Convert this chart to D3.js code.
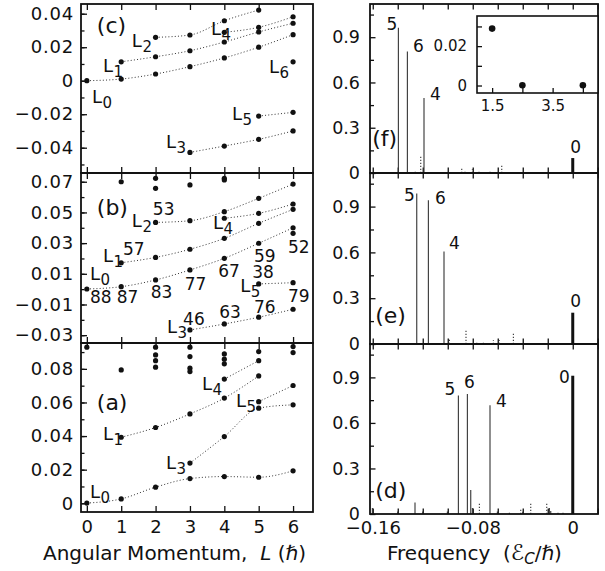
<!DOCTYPE html>
<html>
<head>
<meta charset="utf-8">
<script src="https://cdn.jsdelivr.net/npm/d3@7"></script>
<style>
body{margin:0;background:#fff;}
svg{font-family:"DejaVu Sans",sans-serif;}
</style>
</head>
<body>
<svg id="chart" width="605" height="571"></svg>
<script>
// ===== data =====
const Lvals = [0,1,2,3,4,5,6];

// panel (c) levels: [L, energy]
const cL0 = [[0,0],[1,0.0010],[2,0.0040],[3,0.0084],[4,0.0136],[5,0.0200],[6,0.0275]];
const cL1 = [[1,0.0113],[2,0.0143],[3,0.0179],[4,0.0231],[5,0.0291],[6,0.0343]];
const cL2 = [[2,0.0259],[3,0.0273],[4,0.0358],[5,0.0422]];
const cL3 = [[3,-0.0428],[4,-0.0390],[5,-0.0350],[6,-0.0300]];
const cL4 = [[4,0.0289],[5,0.0319],[6,0.0382]];
const cL5 = [[5,-0.0211],[6,-0.0189]];
const cLoose = [[6,0.0113]];

// panel (b)
const bL0 = [[0,0.0001],[1,0.0016],[2,0.0060],[3,0.0125],[4,0.0201],[5,0.0299],[6,0.0400]];
const bL1 = [[1,0.0172],[2,0.0207],[3,0.0260],[4,0.0331],[5,0.0429],[6,0.0520]];
const bL2 = [[2,0.0435],[3,0.0446],[4,0.0505],[5,0.0592],[6,0.0685]];
const bL3 = [[3,-0.0266],[4,-0.0227],[5,-0.0183],[6,-0.0131]];
const bL4 = [[4,0.0462],[5,0.0494],[6,0.0555]];
const bL5 = [[5,0.0034],[6,0.0042]];
const bLoose = [[1,0.0700],[2,0.0722],[2,0.0657],[3,0.0679],[4,0.0722],[4,0.0712],[6,0.0364]];

// panel (a)
const aL0 = [[0,0.0001],[1,0.0026],[2,0.0096],[3,0.0147],[4,0.0159],[5,0.0155],[6,0.0193]];
const aL1 = [[1,0.0393],[2,0.0451],[3,0.0532],[4,0.0626],[5,0.0758]];
const aL3 = [[3,0.0239],[4,0.0397],[5,0.0566],[6,0.0586]];
const aL4 = [[4,0.0739],[5,0.0849]];
const aL5 = [[5,0.0605],[6,0.0701]];
const aLoose = [[0,0.0929],[1,0.0794],[2,0.0929],[2,0.0883],[2,0.0849],[2,0.0810],
  [3,0.0929],[3,0.0873],[3,0.0804],[3,0.0784],[4,0.0889],[4,0.0858],[4,0.0830],
  [5,0.0903],[6,0.0933],[6,0.0897]];

// level name labels [subscript, L, E] and percentages [text, L, E]
const cNames = [['0',0.15,-0.0133],['1',0.47,0.0052],['2',1.31,0.0201],['3',2.30,-0.0402],
  ['4',3.61,0.0273],['5',4.22,-0.0235],['6',5.30,0.0046]];
const bNames = [['0',0.09,0.0060],['1',0.47,0.0177],['2',1.31,0.0405],['3',2.33,-0.0286],
  ['4',3.67,0.0392],['5',4.46,-0.0018]];
const aNames = [['0',0.09,0.0032],['1',0.47,0.0377],['3',2.30,0.0204],['4',3.35,0.0673],['5',4.34,0.0573]];
const bPercent = [['88',0.09,-0.0090],['87',0.87,-0.0090],['83',1.86,-0.0057],['77',2.85,-0.0005],
  ['67',3.82,0.0079],['59',4.86,0.0177],['52',5.85,0.0236],['57',1.05,0.0223],['53',1.92,0.0483],
  ['38',4.81,0.0073],['46',2.80,-0.0233],['63',3.85,-0.0188],['76',4.86,-0.0155],['79',5.85,-0.0084]];

const cTicks = [-0.04,-0.02,0,0.02,0.04];
const bTicks = [-0.03,-0.01,0.01,0.03,0.05,0.07];
const aTicks = [0,0.02,0.04,0.06,0.08];

// spectra: [frequency, amplitude]
const fMain = [[-0.1395,0.962],[-0.1323,0.805],[-0.1190,0.497]];
const fMainNames = ['5','6','4'];
const fZero = [[0,0.099]];
const fWeak = [[-0.1216,0.11],[-0.1260,0.01],[-0.0888,0.033],[-0.0862,0.015],[-0.0803,0.025],
  [-0.0750,0.015],[-0.0662,0.012],[-0.0568,0.05]];

const eMain = [[-0.1248,0.985],[-0.1155,0.941],[-0.1030,0.606]];
const eMainNames = ['5','6','4'];
const eZero = [[0,0.205]];
const eWeak = [[-0.0987,0.037],[-0.0854,0.087],[-0.0768,0.015],[-0.0715,0.015],[-0.0635,0.025],
  [-0.0587,0.025],[-0.0475,0.07]];

const dMain = [[-0.0915,0.781],[-0.0843,0.790],[-0.0662,0.716]];
const dMainNames = ['5','6','4'];
const dZero = [[0,0.911]];
const dSmall = [[-0.1603,0.039],[-0.1400,0.017],[-0.1262,0.075],[-0.1200,0.017],[-0.1003,0.017],
  [-0.0816,0.158],[-0.0803,0.04],[-0.0603,0.017],[-0.0400,0.015],[-0.0187,0.04],[-0.0176,0.02]];
const dWeak = [[-0.0747,0.075],[-0.0507,0.02],[-0.0416,0.04],[-0.0336,0.07],[-0.0208,0.075],
  [-0.0118,0.012],[-0.0078,0.01]];

const ampTicks = [0,0.3,0.6,0.9];
const ampMinor = [0.15,0.45,0.75,1.05];
const freqTicks = [-0.16,-0.14,-0.12,-0.10,-0.08,-0.06,-0.04,-0.02,0,0.02];
const freqLabels = [-0.16,-0.08,0];

// inset of (f): [L, value]
const insetPts = [[1.5,0.0289],[2.5,0.0001],[4.5,0.0001]];
const insetXTicks = [1.5,2.5,3.5,4.5];
const insetXLabels = [1.5,3.5];
const insetYTicks = [0,0.01,0.02,0.03];
const insetYLabels = [0,0.02];

// ===== layout =====
const svg = d3.select('#chart');
const LX = [81,313], RX = [370,598];
const rowsL = [[4,173],[173,343],[343,512]];
const rowsR = [[4,173],[173,344],[344,514]];
const INK = '#111';

const xL = d3.scaleLinear().domain([-0.17,6.58]).range(LX);
const xR = d3.scaleLinear().domain([-0.1622,0.0202]).range(RX);
const fmtE = d => d === 0 ? '0' : d3.format('.2f')(d);

function styleAxis(g, size){
  g.select('.domain').remove();
  g.selectAll('line').attr('stroke',INK).attr('stroke-width',1.3);
  g.attr('font-family',null).attr('font-size',size).selectAll('text').attr('fill',INK);
}

function frame(x0,x1,y0,y1){
  svg.append('rect').attr('x',x0).attr('y',y0).attr('width',x1-x0).attr('height',y1-y0)
    .attr('fill','none').attr('stroke',INK).attr('stroke-width',1.8);
}

function leftPanel(p){
  const [top,bot] = p.row;
  const y = d3.scaleLinear().domain(p.domain).range([bot,top]);
  const minor = d3.range(Math.ceil(p.domain[0]*100), Math.floor(p.domain[1]*100)+1).map(k=>k/100);
  svg.append('g').attr('transform',`translate(${LX[0]},0)`)
    .call(d3.axisLeft(y).tickValues(minor).tickSize(-3.5).tickFormat(''))
    .call(g=>styleAxis(g,18));
  svg.append('g').attr('transform',`translate(${LX[0]},0)`)
    .call(d3.axisLeft(y).tickValues(p.ticks).tickSize(-6).tickPadding(7).tickFormat(fmtE))
    .call(g=>styleAxis(g,18)).selectAll('text').attr('letter-spacing',0.8);
  svg.append('g').attr('transform',`translate(0,${top})`)
    .call(d3.axisTop(xL).tickValues(Lvals).tickSize(-6).tickFormat(''))
    .call(g=>styleAxis(g,18));
  svg.append('g').attr('transform',`translate(0,${bot})`)
    .call(d3.axisBottom(xL).tickValues(Lvals).tickSize(-6).tickPadding(8)
      .tickFormat(p.bottom ? d3.format('d') : ''))
    .call(g=>styleAxis(g,18));
  frame(LX[0],LX[1],top,bot);

  const line = d3.line().curve(d3.curveMonotoneX).x(d=>xL(d[0])).y(d=>y(d[1]));
  const g = svg.append('g');
  g.selectAll('path').data(p.series).join('path')
    .attr('d',line).attr('fill','none').attr('stroke','#333')
    .attr('stroke-width',1).attr('stroke-dasharray','1 2.2');
  g.selectAll('circle').data(p.series.flat().concat(p.loose)).join('circle')
    .attr('cx',d=>xL(d[0])).attr('cy',d=>y(d[1])).attr('r',2.6).attr('fill',INK);

  const names = svg.append('g').selectAll('text').data(p.names).join('text')
    .attr('x',d=>xL(d[1])).attr('y',d=>y(d[2])).attr('font-size',18).attr('fill',INK);
  names.append('tspan').text('L');
  names.append('tspan').attr('dy',5).attr('dx',0.5).attr('font-size',15).text(d=>d[0]);

  svg.append('g').selectAll('text').data(p.percent || []).join('text')
    .attr('x',d=>xL(d[1])).attr('y',d=>y(d[2])).attr('font-size',17).attr('fill',INK)
    .text(d=>d[0]);

  svg.append('text').attr('x',xL(0.29)).attr('y',y(p.tag[1]))
    .attr('font-size',22).attr('fill',INK).text(p.tag[0]);
}

leftPanel({row:rowsL[0], domain:[-0.0551,0.0458], ticks:cTicks,
  series:[cL0,cL1,cL2,cL3,cL4,cL5], loose:cLoose, names:cNames, tag:['(c)',0.0285]});
leftPanel({row:rowsL[1], domain:[-0.0351,0.0757], ticks:bTicks,
  series:[bL0,bL1,bL2,bL3,bL4,bL5], loose:bLoose, names:bNames, percent:bPercent, tag:['(b)',0.0483]});
leftPanel({row:rowsL[2], domain:[-0.0052,0.0954], ticks:aTicks, bottom:true,
  series:[aL0,aL1,aL3,aL4,aL5], loose:aLoose, names:aNames, tag:['(a)',0.0555]});

// peak label placement (pixel offsets from the peak top)
const labelOffsets = {
  f:[{dx:-1,dy:2,a:'end'},{dx:5.5,dy:0,a:'start'},{dx:6,dy:2,a:'start'},{dx:3,dy:-5,a:'middle'}],
  e:[{dx:-2,dy:7,a:'end'},{dx:6.5,dy:4,a:'start'},{dx:5,dy:-2,a:'start'},{dx:3,dy:-6,a:'middle'}],
  d:[{dx:-3,dy:0,a:'end'},{dx:2,dy:-6,a:'middle'},{dx:6,dy:2,a:'start'},{dx:-3,dy:7,a:'end'}]
};

function rightPanel(p){
  const [top,bot] = p.row;
  const y = d3.scaleLinear().domain([0,1.12]).range([bot,top]);
  svg.append('g').attr('transform',`translate(${RX[0]},0)`)
    .call(d3.axisLeft(y).tickValues(ampMinor).tickSize(-4).tickFormat(''))
    .call(g=>styleAxis(g,17.5));
  svg.append('g').attr('transform',`translate(${RX[0]},0)`)
    .call(d3.axisLeft(y).tickValues(ampTicks).tickSize(-5.5).tickPadding(10).tickFormat(d=>d===0?'0':d3.format('.1f')(d)))
    .call(g=>styleAxis(g,17.5));
  svg.append('g').attr('transform',`translate(0,${top})`)
    .call(d3.axisTop(xR).tickValues(freqTicks).tickSize(-5.5).tickFormat(''))
    .call(g=>styleAxis(g,18));
  svg.append('g').attr('transform',`translate(0,${bot})`)
    .call(d3.axisBottom(xR).tickValues(freqTicks).tickSize(-5.5).tickPadding(7)
      .tickFormat(d => p.bottom && freqLabels.some(v=>Math.abs(v-d)<1e-9) ? (d===0?'0':d3.format('.2f')(d)) : ''))
    .call(g=>styleAxis(g,18));

  const g = svg.append('g');
  const stick = (sel) => sel.attr('x1',d=>xR(d[0])).attr('x2',d=>xR(d[0]))
    .attr('y1',y(0)).attr('y2',d=>y(d[1]));
  g.selectAll('line.weak').data(p.weak).join('line').attr('class','weak').call(stick)
    .attr('stroke','#333').attr('stroke-width',1.1).attr('stroke-dasharray','1.3 1.7');
  g.selectAll('line.small').data(p.small||[]).join('line').attr('class','small').call(stick)
    .attr('stroke','#333').attr('stroke-width',1.1);
  g.selectAll('line.main').data(p.main).join('line').attr('class','main').call(stick)
    .attr('stroke','#333').attr('stroke-width',1.1);
  g.selectAll('line.zero').data(p.zero).join('line').attr('class','zero').call(stick)
    .attr('stroke',INK).attr('stroke-width',3);

  const offs = labelOffsets[p.key];
  const peaks = p.main.map((d,i)=>({d, t:p.names[i], o:offs[i]}))
    .concat([{d:p.zero[0], t:'0', o:offs[3]}]);
  svg.append('g').selectAll('text').data(peaks).join('text')
    .attr('x',k=>xR(k.d[0])+k.o.dx).attr('y',k=>y(k.d[1])+k.o.dy)
    .attr('text-anchor',k=>k.o.a).attr('font-size',17).attr('fill',INK).text(k=>k.t);

  svg.append('text').attr('x',xR(p.tag[1])).attr('y',y(p.tag[2]))
    .attr('font-size',22).attr('fill',INK).text(p.tag[0]);
  frame(RX[0],RX[1],top,bot);
}

rightPanel({key:'f', row:rowsR[0], main:fMain, names:fMainNames, zero:fZero, weak:fWeak, tag:['(f)',-0.1605,0.18]});
rightPanel({key:'e', row:rowsR[1], main:eMain, names:eMainNames, zero:eZero, weak:eWeak, tag:['(e)',-0.158,0.137]});
rightPanel({key:'d', row:rowsR[2], main:dMain, names:dMainNames, zero:dZero, weak:dWeak, small:dSmall, bottom:true, tag:['(d)',-0.158,0.105]});

// inset of panel (f)
const IX = [477,598], IY = [93,16];
const ix = d3.scaleLinear().domain([1,5]).range(IX);
const iy = d3.scaleLinear().domain([-0.0038,0.0353]).range(IY);
svg.append('rect').attr('x',IX[0]).attr('y',IY[1]).attr('width',IX[1]-IX[0]).attr('height',IY[0]-IY[1])
  .attr('fill','#fff').attr('stroke',INK).attr('stroke-width',1.6);
svg.append('g').attr('transform',`translate(${IX[0]},0)`)
  .call(d3.axisLeft(iy).tickValues(insetYTicks).tickSize(-5).tickPadding(10)
    .tickFormat(d => insetYLabels.includes(d) ? (d===0?'0':d3.format('.2f')(d)) : ''))
  .call(g=>styleAxis(g,15));
svg.append('g').attr('transform',`translate(0,${IY[0]})`)
  .call(d3.axisBottom(ix).tickValues(insetXTicks).tickSize(-5).tickPadding(7)
    .tickFormat(d => insetXLabels.includes(d) ? d3.format('.1f')(d) : ''))
  .call(g=>styleAxis(g,15));
svg.append('g').selectAll('circle').data(insetPts).join('circle')
  .attr('cx',d=>ix(d[0])).attr('cy',d=>iy(d[1])).attr('r',3.3).attr('fill',INK);

// axis titles
const t1 = svg.append('text').attr('x',43).attr('y',560).attr('font-size',20).attr('fill',INK)
  .style('white-space','pre');
t1.append('tspan').text('Angular Momentum,  ');
t1.append('tspan').attr('font-style','italic').text('L');
t1.append('tspan').text(' (ℏ)');

const t2 = svg.append('text').attr('x',387).attr('y',560).attr('font-size',20).attr('fill',INK)
  .style('white-space','pre');
t2.append('tspan').text('Frequency  (');
t2.append('tspan').attr('font-style','italic').attr('font-size',22).text('ℰ');
t2.append('tspan').attr('font-style','italic').attr('font-size',15).attr('dy',4).text('C');
t2.append('tspan').attr('dy',-4).text('/ℏ)');
</script>
</body>
</html>
